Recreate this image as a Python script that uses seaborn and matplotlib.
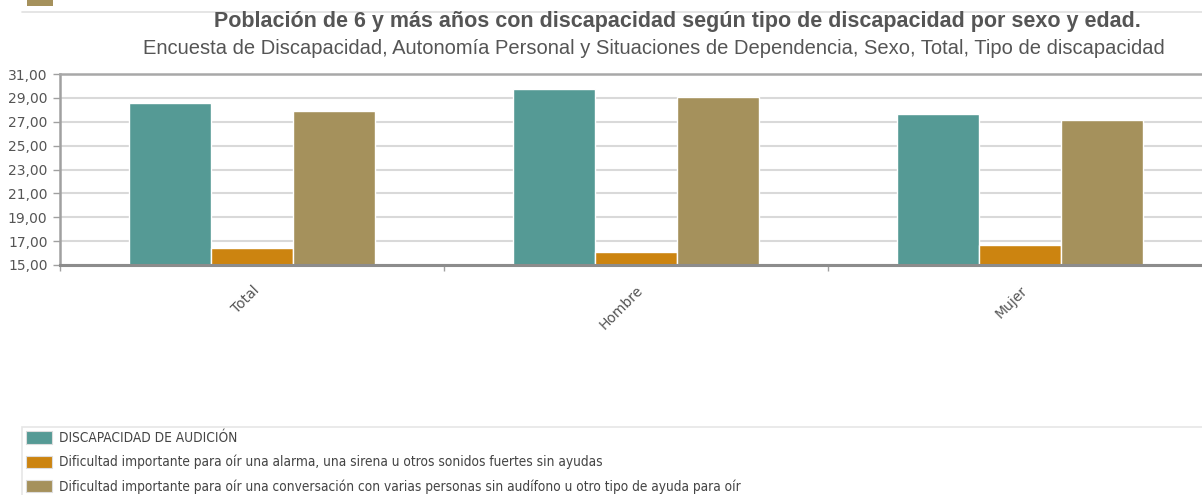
import matplotlib
matplotlib.use("Agg")
import matplotlib.pyplot as plt
import matplotlib.ticker as mticker
from matplotlib.patches import Patch, Rectangle
import seaborn as sns
import pandas as pd

categories = ["Total", "Hombre", "Mujer"]
series = [
    "DISCAPACIDAD DE AUDICIÓN",
    "Dificultad importante para oír una alarma, una sirena u otros sonidos fuertes sin ayudas",
    "Dificultad importante para oír una conversación con varias personas sin audífono u otro tipo de ayuda para oír",
]
audicion = [28.53, 29.74, 27.66]
alarma = [16.41, 16.09, 16.66]
conversacion = [27.88, 29.04, 27.13]
colors = ["#559A95", "#CC8410", "#A5915C"]
yticks = [15, 17, 19, 21, 23, 25, 27, 29, 31]

rows = []
for name, vals in zip(series, [audicion, alarma, conversacion]):
    for c, v in zip(categories, vals):
        rows.append({"cat": c, "serie": name, "valor": v})
df = pd.DataFrame(rows)

sns.set_theme(style="white")
plt.rcParams["font.family"] = ["Liberation Sans", "DejaVu Sans"]

W, H = 1202, 495
fig = plt.figure(figsize=(W / 100, H / 100), dpi=100)
ax = fig.add_axes([60 / W, 1 - 265 / H, (1202 - 60) / W, (265 - 74) / H])

sns.barplot(data=df, x="cat", y="valor", hue="serie", order=categories,
            hue_order=series, palette=colors, width=0.64, ax=ax,
            edgecolor="white", linewidth=1, saturation=1, legend=False)

ax.set_ylim(15, 31)
ax.set_xlim(-0.5, -0.5 + (1202 - 60) / 384)
ax.set_yticks(yticks)
ax.yaxis.set_major_formatter(mticker.FuncFormatter(lambda v, p: f"{v:.2f}".replace(".", ",")))
ax.grid(axis="y", color="#d9d9d9", linewidth=1.5)
ax.set_axisbelow(True)
ax.set_xlabel("")
ax.set_ylabel("")

ax.spines["left"].set_color("#a0a0a0")
ax.spines["left"].set_linewidth(1.8)
ax.spines["bottom"].set_color("#8c8c8c")
ax.spines["bottom"].set_linewidth(2.2)
ax.spines["top"].set_color("#a8a8a8")
ax.spines["top"].set_linewidth(1.8)
ax.spines["right"].set_visible(False)

ax.tick_params(axis="y", left=True, length=5, width=1, color="#a0a0a0",
               labelcolor="#555555", pad=4)
ax.tick_params(axis="x", bottom=False, labelcolor="#555555", pad=7)
ax.set_xticks([-0.5, 0.5, 1.5], minor=True)
ax.tick_params(axis="x", which="minor", bottom=True, length=4, width=1, color="#a0a0a0")
for lab in ax.get_yticklabels():
    lab.set_family(["DejaVu Sans"])
    lab.set_fontsize(10)
for lab in ax.get_xticklabels():
    lab.set_rotation(45)
    lab.set_ha("right")
    lab.set_va("top")
    lab.set_rotation_mode("anchor")
    lab.set_family(["DejaVu Sans"])
    lab.set_fontsize(10)

fig.text(677 / W, 1 - 22 / H,
         "Población de 6 y más años con discapacidad según tipo de discapacidad por sexo y edad.",
         ha="center", va="center", fontsize=15.5, fontweight="bold", color="#555555")
fig.text(654 / W, 1 - 49 / H,
         "Encuesta de Discapacidad, Autonomía Personal y Situaciones de Dependencia, Sexo, Total, Tipo de discapacidad",
         ha="center", va="center", fontsize=14.5, color="#555555")

# remnant of previous legend box at top
fig.add_artist(Rectangle((27 / W, 1 - 6 / H), 26 / W, 12 / H, transform=fig.transFigure,
                         facecolor=colors[2], edgecolor="none"))
fig.add_artist(plt.Line2D([22 / W, 1], [1 - 12 / H, 1 - 12 / H], transform=fig.transFigure,
                          color="#e0e0e0", linewidth=1.2))

handles = [Patch(facecolor=c, edgecolor="#dddddd", linewidth=0.8) for c in colors]
leg = fig.legend(handles, series, loc="upper left",
                 bbox_to_anchor=(22 / W, 0, 1.2, 1 - 427 / H), mode="expand",
                 frameon=True, fancybox=False, borderaxespad=0, ncol=1,
                 handlelength=1.9, handleheight=1.0, handletextpad=0.5,
                 labelspacing=0.72, borderpad=0.3,
                 prop={"family": "DejaVu Sans", "size": 9.85, "stretch": "condensed"})
leg.get_frame().set_edgecolor("#e0e0e0")
leg.get_frame().set_linewidth(1.2)
for t in leg.get_texts():
    t.set_color("#444444")

fig.savefig("out.png", dpi=100)
